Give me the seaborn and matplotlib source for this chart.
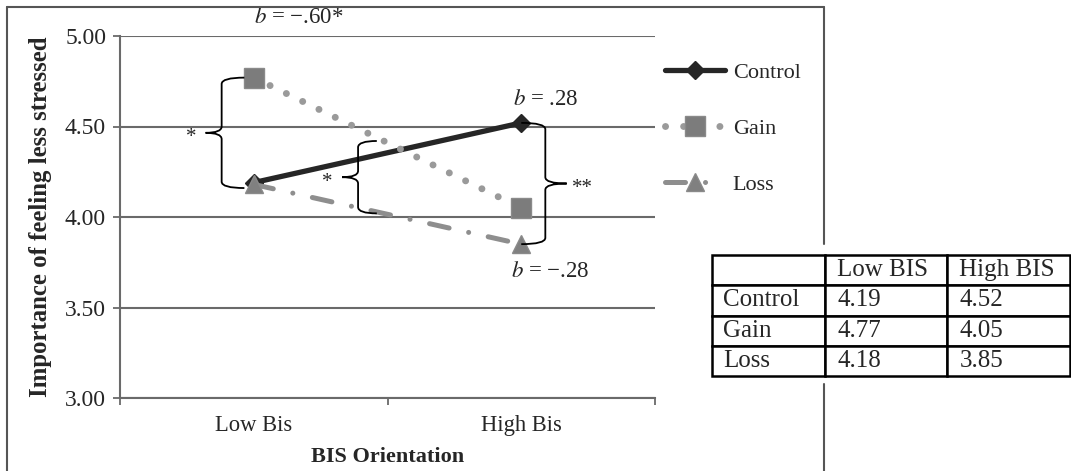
import matplotlib.pyplot as plt
import matplotlib.path as mpath
import matplotlib.patches as mpatches
from matplotlib.lines import Line2D
import seaborn as sns
import pandas as pd
import numpy as np

# data
levels = ["Low Bis", "High Bis"]
groups = ["Control", "Gain", "Loss"]
control = [4.19, 4.52]
gain = [4.77, 4.05]
loss = [4.18, 3.85]
slopes = ["$b$ = \u2212.60*", "$b$ = .28", "$b$ = \u2212.28"]
table_cols = ["", "Low BIS", "High BIS"]
table_rows = [["Control", "4.19", "4.52"],
              ["Gain", "4.77", "4.05"],
              ["Loss", "4.18", "3.85"]]

sns.set_style("white")
plt.rcParams['font.family'] = ['Liberation Serif', 'DejaVu Serif']
plt.rcParams['mathtext.fontset'] = 'stix'

W, H = 1071, 471
fig = plt.figure(figsize=(W / 100, H / 100), dpi=100)
ax = fig.add_axes([120 / W, 1 - 398 / H, (655 - 120) / W, (398 - 36) / H])

styles = {
    "Control": dict(color="#262626", marker="D", markersize=9, linewidth=3.8,
                    linestyle="-"),
    "Gain": dict(color="#9a9a9a", marker="s", markersize=15, linewidth=5,
                 linestyle=(0, (0.01, 2.6)), markerfacecolor="#7c7c7c",
                 markeredgecolor="#8a8a8a"),
    "Loss": dict(color="#8e8e8e", marker="^", markersize=13, linewidth=3.6,
                 linestyle=(0, (4, 4, 0.01, 4)), markerfacecolor="#808080",
                 markeredgecolor="#8a8a8a"),
}
series = {"Control": control, "Gain": gain, "Loss": loss}

for g in groups:
    df = pd.DataFrame({"level": levels, "value": series[g]})
    st = dict(styles[g])
    sns.pointplot(data=df, x="level", y="value", ax=ax, errorbar=None,
                  markeredgewidth=1, dash_capstyle="round",
                  solid_capstyle="round", zorder=3, **st)

ax.set_ylim(3, 5)
ax.set_xlim(-0.5, 1.5)
ax.set_yticks([3.0, 3.5, 4.0, 4.5, 5.0])
ax.set_yticklabels([f"{v:.2f}" for v in [3.0, 3.5, 4.0, 4.5, 5.0]])
ax.yaxis.grid(True, color="#6a6a6a", linewidth=1.5)
ax.xaxis.grid(False)
ax.set_axisbelow(True)
for s in ["top", "right"]:
    ax.spines[s].set_visible(False)
for s in ["left", "bottom"]:
    ax.spines[s].set_color("#6a6a6a")
    ax.spines[s].set_linewidth(1.5)
ax.tick_params(axis="y", length=5, width=1.3, color="#6a6a6a", labelsize=17,
               pad=5, left=True)
ax.tick_params(axis="x", length=0, labelsize=16.3, pad=12)
ax.set_xticks([-0.5, 0.5, 1.5], minor=True)
ax.tick_params(axis="x", which="minor", length=5, width=1.3, color="#6a6a6a",
               bottom=True)

ax.set_xlabel("BIS Orientation", fontsize=16, fontweight="bold", labelpad=8)
ax.set_ylabel("Importance of feeling less stressed", fontsize=17.8,
              fontweight="bold", labelpad=9)

# slope labels
ax.text(0.0, 5.1, slopes[0], fontsize=16.5, ha="left", va="center", clip_on=False)
ax.text(1.09, 4.65, slopes[1], fontsize=16.5, ha="center", va="center")
ax.text(1.11, 3.70, slopes[2], fontsize=16.5, ha="center", va="center")


def brace(x, y0, y1, d, w, t, r=0.035):
    # d=+1 hooks to the right (tip points left), d=-1 the other way
    ym = (y0 + y1) / 2
    P = mpath.Path
    verts = [(x + d * w, y1), (x, y1), (x, y1 - r),
             (x, ym + r), (x, ym), (x - d * t, ym),
             (x, ym), (x, ym - r),
             (x, y0 + r), (x, y0), (x + d * w, y0)]
    codes = [P.MOVETO, P.CURVE3, P.CURVE3,
             P.LINETO, P.CURVE3, P.CURVE3,
             P.CURVE3, P.CURVE3,
             P.LINETO, P.CURVE3, P.CURVE3]
    ax.add_patch(mpatches.PathPatch(P(verts, codes), fill=False,
                                    edgecolor="black", linewidth=1.3,
                                    zorder=4, clip_on=False))


brace(-0.12, loss[0] - 0.02, gain[0], 1, 0.085, 0.06)
brace(0.39, 4.02, 4.42, 1, 0.07, 0.06)
brace(1.09, loss[1], control[1], -1, 0.09, 0.08)
ax.text(-0.235, 4.44, "*", fontsize=15, ha="center", va="center")
ax.text(0.275, 4.19, "*", fontsize=15, ha="center", va="center")
ax.text(1.23, 4.16, "**", fontsize=15, ha="center", va="center")

# legend
handles = ax.get_lines()[:3]
fig.legend(handles, groups, loc="upper left",
           bbox_to_anchor=(665 / W, 1 - 62 / H), frameon=False, fontsize=16,
           handlelength=2.7, handletextpad=0.35, labelspacing=1.6,
           borderpad=0, borderaxespad=0, numpoints=1)

# outer frame
fc = "#555555"
fig.add_artist(Line2D([7 / W, 7 / W], [0, 1 - 7 / H], color=fc, lw=1.5))
fig.add_artist(Line2D([7 / W, 824 / W], [1 - 7 / H, 1 - 7 / H], color=fc, lw=1.5))
fig.add_artist(Line2D([824 / W, 824 / W], [1 - 7 / H, 1 - 244 / H], color=fc, lw=1.5))
fig.add_artist(Line2D([824 / W, 824 / W], [1 - 384 / H, 0], color=fc, lw=1.5))

# table
tax = fig.add_axes([712 / W, 1 - 376 / H, 358 / W, 121 / H])
tax.axis("off")
cells = [table_cols] + table_rows
tbl = tax.table(cellText=cells, cellLoc="left", bbox=[0, 0, 1, 1],
                colWidths=[113, 122, 123])
tbl.auto_set_font_size(False)
tbl.set_fontsize(18)
for (r, c), cell in tbl.get_celld().items():
    cell.set_linewidth(1.8)
    cell.set_edgecolor("black")
    cell.PAD = 0.1

fig.savefig("out.png", dpi=100)
